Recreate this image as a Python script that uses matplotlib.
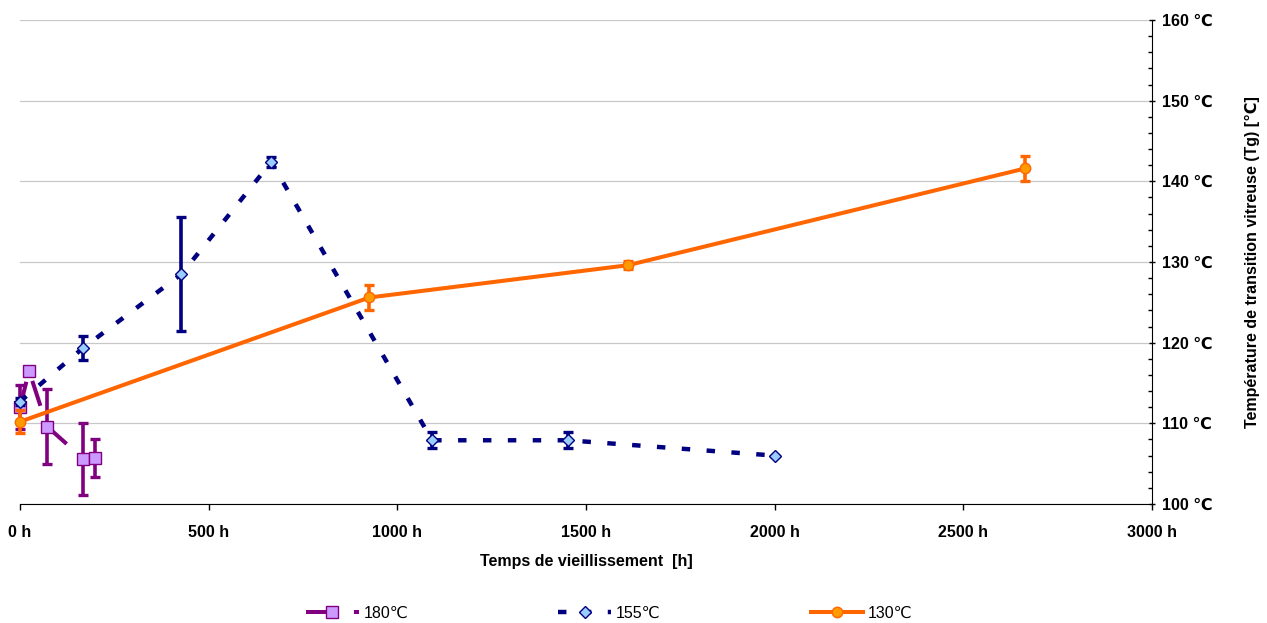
import matplotlib
matplotlib.use('Agg')
import matplotlib.pyplot as plt
from matplotlib.ticker import MultipleLocator

# Data
t180 = [0, 24, 72, 168, 200]
tg180 = [112.0, 116.5, 109.6, 105.6, 105.7]
err180 = [2.7, 0.5, 4.6, 4.5, 2.3]

t155 = [0, 166, 428, 666, 1092, 1452, 2000]
tg155 = [112.7, 119.3, 128.5, 142.4, 107.9, 107.9, 106.0]
err155 = [0.4, 1.5, 7.1, 0.6, 1.0, 1.0, 0.0]

t130 = [0, 926, 1611, 2664]
tg130 = [110.2, 125.6, 129.6, 141.6]
err130 = [1.4, 1.6, 0.5, 1.5]

xticks = [0, 500, 1000, 1500, 2000, 2500, 3000]
yticks = [100, 110, 120, 130, 140, 150, 160]

plt.rcParams['font.family'] = ['Liberation Sans', 'DejaVu Sans']
plt.rcParams['font.weight'] = 'bold'

purple, lilac = '#800080', '#CC99FF'
navy, lightblue = '#000080', '#99CCFF'
orange, orange_fill = '#FF6600', '#FF9900'

fig = plt.figure(figsize=(12.67, 6.23), dpi=100)
ax = fig.add_axes([20 / 1267, 1 - 504 / 623, 1132 / 1267, 484 / 623])

# grid lines
ax.set_axisbelow(True)
ax.grid(axis='y', color='#C8C8C8', lw=0.9)

# 180 °C
eb = ax.errorbar(t180, tg180, yerr=err180, fmt='none', ecolor=purple,
                 elinewidth=2.6, capsize=3.8, capthick=2.4, zorder=2)
l180, = ax.plot(t180, tg180, color=purple, lw=2.9, dashes=(6.5, 5.4),
                marker='s', ms=8, mfc=lilac, mec=purple, mew=1, zorder=3,
                clip_on=False)

# 155 °C
eb2 = ax.errorbar(t155, tg155, yerr=err155, fmt='none', ecolor=navy,
                  elinewidth=2.6, capsize=3.8, capthick=2.4, zorder=4)
l155, = ax.plot(t155, tg155, color=navy, lw=3.2, dashes=(1.9, 3.7),
                marker='D', ms=6.5, mfc=lightblue, mec=navy, mew=1, zorder=5,
                clip_on=False)

# 130 °C
eb3 = ax.errorbar(t130, tg130, yerr=err130, fmt='none', ecolor=orange,
                  elinewidth=2.6, capsize=3.8, capthick=2.4, zorder=6)
l130, = ax.plot(t130, tg130, color=orange, lw=2.9, marker='o', ms=7.5,
                mfc=orange_fill, mec=orange, mew=1, zorder=7, clip_on=False)

# keep error bars at x=0 unclipped
for c in (eb, eb2, eb3):
    for art in c.lines[1] + c.lines[2]:
        art.set_clip_on(False)

ax.set_xlim(0, 3000)
ax.set_ylim(100, 160)

for s in ['left', 'top']:
    ax.spines[s].set_visible(False)
ax.spines['bottom'].set_color('#000000')
ax.spines['right'].set_color('#000000')

ax.set_xticks(xticks)
ax.set_xticklabels([f'{v} h' for v in xticks])
ax.yaxis.tick_right()
ax.set_yticks(yticks)
ax.set_yticklabels([f'{v} ℃' for v in yticks])
ax.yaxis.set_minor_locator(MultipleLocator(2))

ax.tick_params(axis='x', direction='out', length=4, width=1, pad=11, labelsize=11.5)
ax.tick_params(axis='y', which='major', direction='inout', length=5, width=1,
               pad=5, labelsize=11.5)
ax.tick_params(axis='y', which='minor', direction='in', length=3, width=1)

ax.set_xlabel('Temps de vieillissement  [h]', fontsize=11.5, fontweight='bold', labelpad=10)
ax.yaxis.set_label_position('right')
ax.set_ylabel('Température de transition vitreuse (Tg) [℃]', fontsize=11.5,
              fontweight='bold')
ax.yaxis.set_label_coords((1245 - 20) / 1132, 0.5)

fig.legend([l180, l155, l130], ['180℃', '155℃', '130℃'], loc='center',
           bbox_to_anchor=(0.481, 0.016), ncol=3, frameon=False,
           prop={'size': 11.5, 'weight': 'normal'}, handlelength=3.3,
           handletextpad=0.3, columnspacing=9.4)

fig.savefig('out.png', dpi=100)
